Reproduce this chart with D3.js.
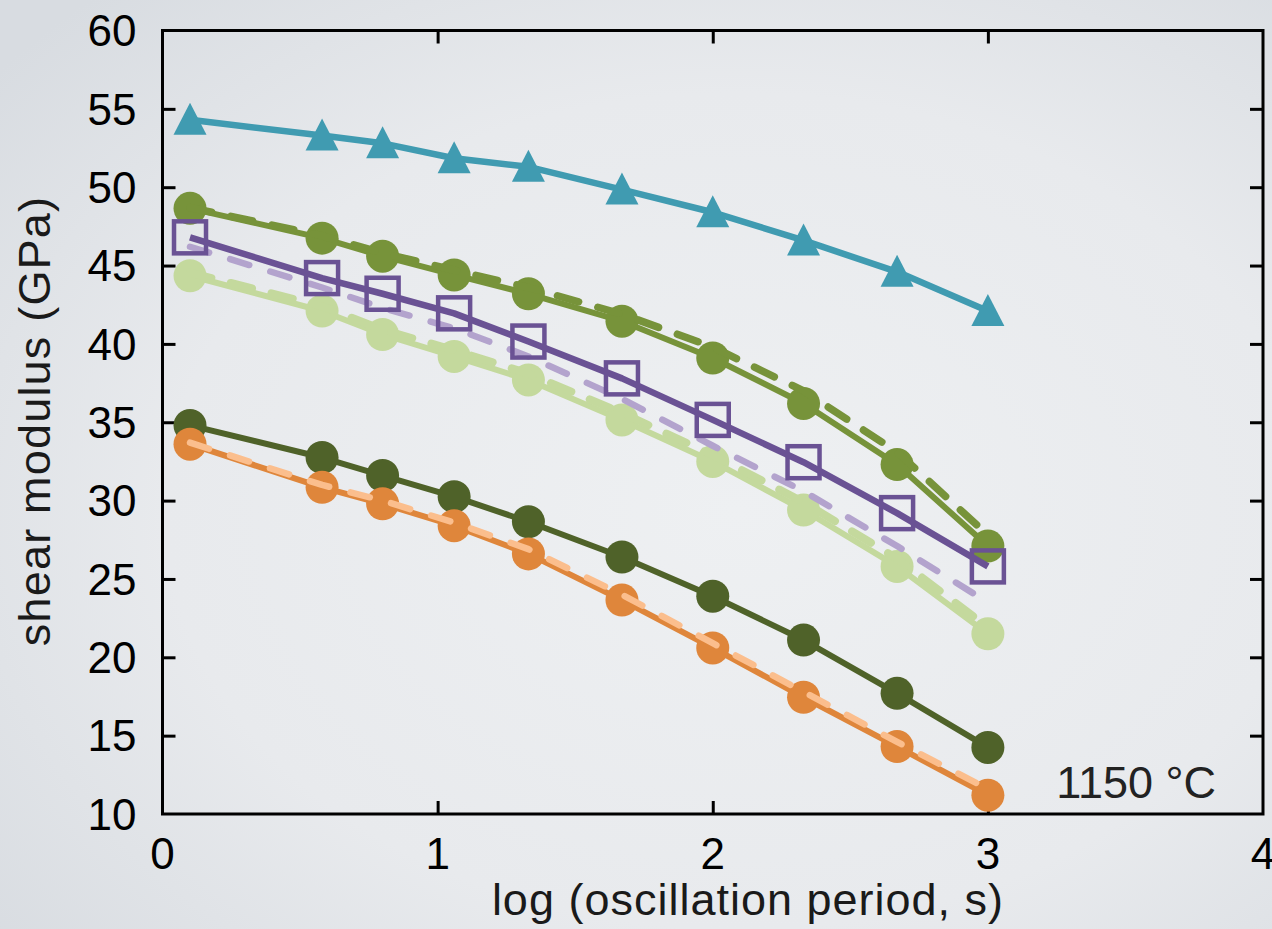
<!DOCTYPE html>
<html>
<head>
<meta charset="utf-8">
<script src="https://cdn.jsdelivr.net/npm/d3@7"></script>
<style>
  html, body { margin: 0; padding: 0; overflow: hidden; background: #e6e9ec; }
  svg { display: block; }
</style>
</head>
<body>
<script>
// log10 of the oscillation period (s) at which each measurement was taken
const logPeriod = [0.1, 0.58, 0.8, 1.06, 1.33, 1.67, 2.0, 2.33, 2.67, 3.0];

// shear modulus (GPa) per sample, measured (markers) and fitted (dashed)
const tealTriangles     = [54.3, 53.3, 52.8, 51.85, 51.3, 49.85, 48.4, 46.6, 44.6, 42.1];
const greenCircles      = [48.65, 46.75, 45.6, 44.4, 43.2, 41.45, 39.1, 36.2, 32.3, 27.1];
const greenDashed       = [48.7, 46.9, 45.8, 44.7, 43.6, 41.9, 39.8, 37.0, 33.1, 27.8];
const purpleSquares     = [46.8, 44.2, 43.2, 41.95, 40.15, 37.8, 35.15, 32.45, 29.2, 25.8];
const purpleDashed      = [46.2, 43.6, 42.3, 41.0, 39.2, 36.5, 33.5, 30.6, 27.1, 23.5];
const lightGreenCircles = [44.35, 42.1, 40.6, 39.2, 37.7, 35.15, 32.5, 29.4, 25.8, 21.5];
const lightGreenDashed  = [44.55, 42.4, 40.9, 39.6, 38.1, 35.6, 32.9, 29.9, 26.3, 21.9];
const darkGreenCircles  = [34.8, 32.75, 31.6, 30.25, 28.65, 26.4, 23.9, 21.1, 17.7, 14.25];
const orangeCircles     = [33.6, 30.85, 29.8, 28.4, 26.6, 23.65, 20.6, 17.45, 14.3, 11.2];
const orangeDashed      = [33.7, 31.0, 30.0, 28.6, 26.9, 24.0, 20.9, 17.8, 14.6, 11.6];

const xTickValues = [0, 1, 2, 3, 4];
const yTickValues = [10, 15, 20, 25, 30, 35, 40, 45, 50, 55, 60];
const xTitle = "log (oscillation period, s)";
const yTitle = "shear modulus (GPa)";
const tempLabel = "1150 °C";

const W = 1272, H = 929;
const plot = { left: 162.5, right: 1263, top: 30.5, bottom: 814 };

const svg = d3.select("body").append("svg").attr("width", W).attr("height", H);

// soft grey backdrop, lighter toward the middle
const defs = svg.append("defs");
const bg = defs.append("radialGradient").attr("id", "bg")
  .attr("cx", "58%").attr("cy", "55%").attr("r", "75%");
bg.append("stop").attr("offset", "0%").attr("stop-color", "#eef0f2");
bg.append("stop").attr("offset", "60%").attr("stop-color", "#e8eaed");
bg.append("stop").attr("offset", "100%").attr("stop-color", "#d8dce1");
svg.append("rect").attr("width", W).attr("height", H).attr("fill", "url(#bg)");

const x = d3.scaleLinear().domain([0, 4]).range([plot.left, plot.right]);
const y = d3.scaleLinear().domain([10, 60]).range([plot.bottom, plot.top]);

const font = "'Liberation Sans', Arial, Helvetica, sans-serif";

// frame
svg.append("rect")
  .attr("x", plot.left).attr("y", plot.top)
  .attr("width", plot.right - plot.left).attr("height", plot.bottom - plot.top)
  .attr("fill", "none").attr("stroke", "#000").attr("stroke-width", 3);

// inward ticks on all four sides (no labels here)
const innerX = xTickValues.filter(v => v > 0 && v < 4);
const innerY = yTickValues.filter(v => v > 10 && v < 60);
const tickLen = 13;
const axisOpts = (ax) => ax.tickSize(tickLen).tickSizeOuter(0).tickFormat("");
const styleTicks = g => {
  g.select(".domain").remove();
  g.selectAll("line").attr("stroke", "#000").attr("stroke-width", 3);
};
svg.append("g").attr("transform", `translate(${plot.left},0)`)
  .call(axisOpts(d3.axisRight(y).tickValues(innerY))).call(styleTicks);
svg.append("g").attr("transform", `translate(${plot.right},0)`)
  .call(axisOpts(d3.axisLeft(y).tickValues(innerY))).call(styleTicks);
svg.append("g").attr("transform", `translate(0,${plot.top})`)
  .call(axisOpts(d3.axisBottom(x).tickValues(innerX))).call(styleTicks);
svg.append("g").attr("transform", `translate(0,${plot.bottom})`)
  .call(axisOpts(d3.axisTop(x).tickValues(innerX))).call(styleTicks);

// tick labels
svg.append("g").selectAll("text").data(yTickValues).join("text")
  .attr("x", plot.left - 26).attr("y", d => y(d)).attr("dy", "0.36em")
  .attr("text-anchor", "end")
  .attr("font-family", font).attr("font-size", 44).attr("fill", "#000")
  .text(d => d);
svg.append("g").selectAll("text").data(xTickValues).join("text")
  .attr("x", d => x(d)).attr("y", 869)
  .attr("text-anchor", "middle")
  .attr("font-family", font).attr("font-size", 44).attr("fill", "#000")
  .text(d => d);

// axis titles
svg.append("text")
  .attr("x", 748).attr("y", 915)
  .attr("text-anchor", "middle")
  .attr("font-family", font).attr("font-size", 45).attr("letter-spacing", 1)
  .attr("fill", "#1a1a1a")
  .text(xTitle);
svg.append("text")
  .attr("transform", `translate(50,421) rotate(-90)`)
  .attr("text-anchor", "middle")
  .attr("font-family", font).attr("font-size", 45).attr("letter-spacing", 1.2)
  .attr("fill", "#1a1a1a")
  .text(yTitle);

svg.append("text")
  .attr("x", 1216).attr("y", 798)
  .attr("text-anchor", "end")
  .attr("font-family", font).attr("font-size", 45).attr("fill", "#222")
  .text(tempLabel);

// series drawing helpers
const line = d3.line().x(d => x(d[0])).y(d => y(d[1]));
const pts = vals => logPeriod.map((p, i) => [p, vals[i]]);
const layer = svg.append("g");

function drawLine(vals, color, width, dash) {
  layer.append("path").datum(pts(vals))
    .attr("d", line).attr("fill", "none")
    .attr("stroke", color).attr("stroke-width", width)
    .attr("stroke-linejoin", "round")
    .attr("stroke-linecap", dash ? "round" : "butt")
    .attr("stroke-dasharray", dash || null);
}
function drawCircles(vals, color) {
  layer.append("g").selectAll("circle").data(pts(vals)).join("circle")
    .attr("cx", d => x(d[0])).attr("cy", d => y(d[1])).attr("r", 16.5)
    .attr("fill", color);
}
function drawTriangles(vals, color) {
  layer.append("g").selectAll("path").data(pts(vals)).join("path")
    .attr("transform", d => `translate(${x(d[0])},${y(d[1])})`)
    .attr("d", "M0,-17L16.5,15L-16.5,15Z")
    .attr("fill", color);
}
function drawSquares(vals, color) {
  layer.append("g").selectAll("rect").data(pts(vals)).join("rect")
    .attr("x", d => x(d[0]) - 16).attr("y", d => y(d[1]) - 16)
    .attr("width", 32).attr("height", 32)
    .attr("fill", "none").attr("stroke", color).attr("stroke-width", 4.5);
}

const C = {
  teal: "#409bb1",
  green: "#77933a",
  lightGreen: "#c4d99d",
  darkGreen: "#4f6229",
  purple: "#6a5294",
  lightPurple: "#b3a3cd",
  orange: "#df863b",
  lightOrange: "#fbbe8d"
};

// light green sample
drawLine(lightGreenCircles, C.lightGreen, 6);
drawCircles(lightGreenCircles, C.lightGreen);
drawLine(lightGreenDashed, C.lightGreen, 8, "22 20");

// green sample
drawLine(greenCircles, C.green, 6);
drawCircles(greenCircles, C.green);
drawLine(greenDashed, C.green, 7.5, "22 20");

// purple sample
drawLine(purpleDashed, C.lightPurple, 6.5, "20 22");
drawSquares(purpleSquares, C.purple);
drawLine(purpleSquares, C.purple, 6.5);

// teal sample
drawLine(tealTriangles, C.teal, 6.5);
drawTriangles(tealTriangles, C.teal);

// dark green sample
drawLine(darkGreenCircles, C.darkGreen, 6);
drawCircles(darkGreenCircles, C.darkGreen);

// orange sample
drawLine(orangeCircles, C.orange, 6);
drawCircles(orangeCircles, C.orange);
drawLine(orangeDashed, C.lightOrange, 6.5, "20 22");
</script>
</body>
</html>
